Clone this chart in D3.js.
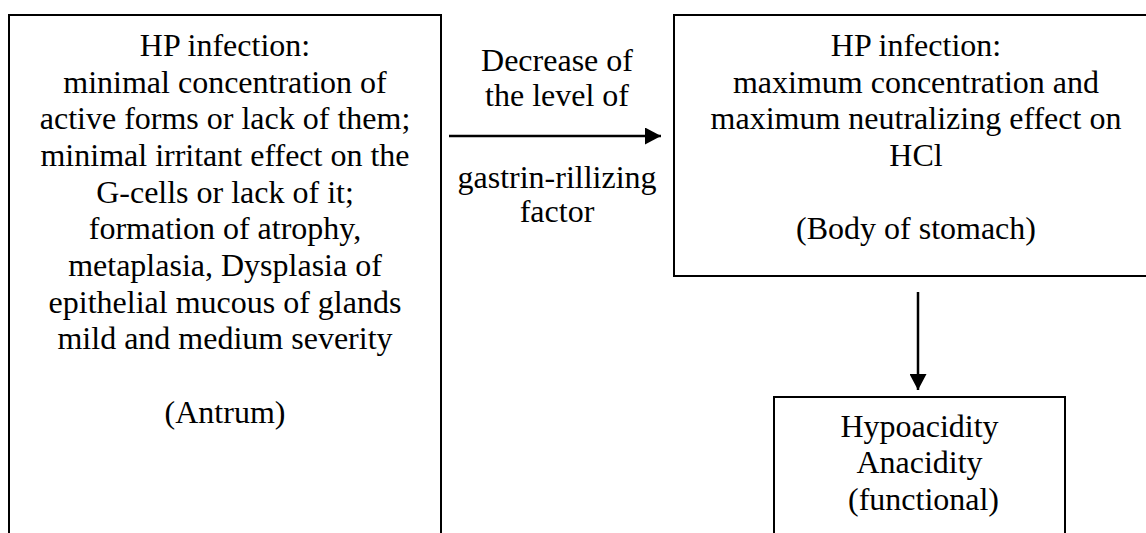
<!DOCTYPE html>
<html lang="en">
<head>
<meta charset="utf-8">
<title>HP infection scheme</title>
<script src="https://cdn.jsdelivr.net/npm/d3@7"></script>
</head>
<body style="margin:0; background:#fff">
<div id="drawing"></div>
<script>

// box texts, one entry per printed line ("" = empty line)
var antrumLines = [
  "HP infection:",
  "minimal concentration of",
  "active forms or lack of them;",
  "minimal irritant effect on the",
  "G-cells or lack of it;",
  "formation of atrophy,",
  "metaplasia, Dysplasia of",
  "epithelial mucous of glands",
  "mild and medium severity",
  "",
  "(Antrum)"
];
var bodyLines = [
  "HP infection:",
  "maximum concentration and",
  "maximum neutralizing effect on",
  "HCl",
  "",
  "(Body of stomach)"
];
var resultLines = [
  "Hypoacidity",
  "Anacidity",
  "\u00A0(functional)"
];
var arrowAbove = ["Decrease of", "the level of"];
var arrowBelow = ["gastrin-rillizing", "factor"];

var W = 1146, H = 533;
var lineH = 36.67;
var serif = "'Liberation Serif', Tinos, monospace";

var svg = d3.select('#drawing').append('svg')
  .attr('width', W).attr('height', H);

svg.append('defs').append('marker')
  .attr('id', 'head')
  .attr('viewBox', '0 0 16 17')
  .attr('refX', 16).attr('refY', 8.5)
  .attr('markerWidth', 16).attr('markerHeight', 17)
  .attr('markerUnits', 'userSpaceOnUse')
  .attr('orient', 'auto')
  .append('path')
  .attr('d', 'M0,0 L16,8.5 L0,17 Z')
  .attr('fill', '#000');

function writeLines(lines, x, y0, step) {
  svg.append('g').selectAll('text')
    .data(lines)
    .join('text')
    .attr('x', x)
    .attr('y', function(d, i) { return y0 + i * step; })
    .attr('text-anchor', 'middle')
    .attr('font-family', serif)
    .attr('font-size', 32)
    .attr('fill', '#000')
    .text(function(d) { return d; });
}

function drawBox(box, lines) {
  svg.append('rect')
    .attr('x', box.x).attr('y', box.y)
    .attr('width', box.w).attr('height', box.h)
    .attr('fill', 'none').attr('stroke', '#000').attr('stroke-width', 2);
  writeLines(lines, box.cx, box.y + box.first, lineH);
}

// left box (bottom runs off the page)
drawBox({ x: 9, y: 15, w: 432, h: 600, cx: 225, first: 41 }, antrumLines);
// right top box (right edge runs off the page)
drawBox({ x: 674, y: 15, w: 484, h: 261, cx: 916, first: 41 }, bodyLines);
// bottom right box
drawBox({ x: 774, y: 397, w: 291, h: 300, cx: 919.5, first: 39.7 }, resultLines);

// horizontal arrow with its label
svg.append('line')
  .attr('x1', 449).attr('y1', 136).attr('x2', 661).attr('y2', 136)
  .attr('stroke', '#000').attr('stroke-width', 2.5)
  .attr('marker-end', 'url(#head)');

writeLines(arrowAbove, 557, 71, 34.5);
writeLines(arrowBelow, 557, 188, 34);

// vertical arrow
svg.append('line')
  .attr('x1', 918).attr('y1', 292).attr('x2', 918).attr('y2', 390)
  .attr('stroke', '#000').attr('stroke-width', 2.5)
  .attr('marker-end', 'url(#head)');

</script>
</body>
</html>
